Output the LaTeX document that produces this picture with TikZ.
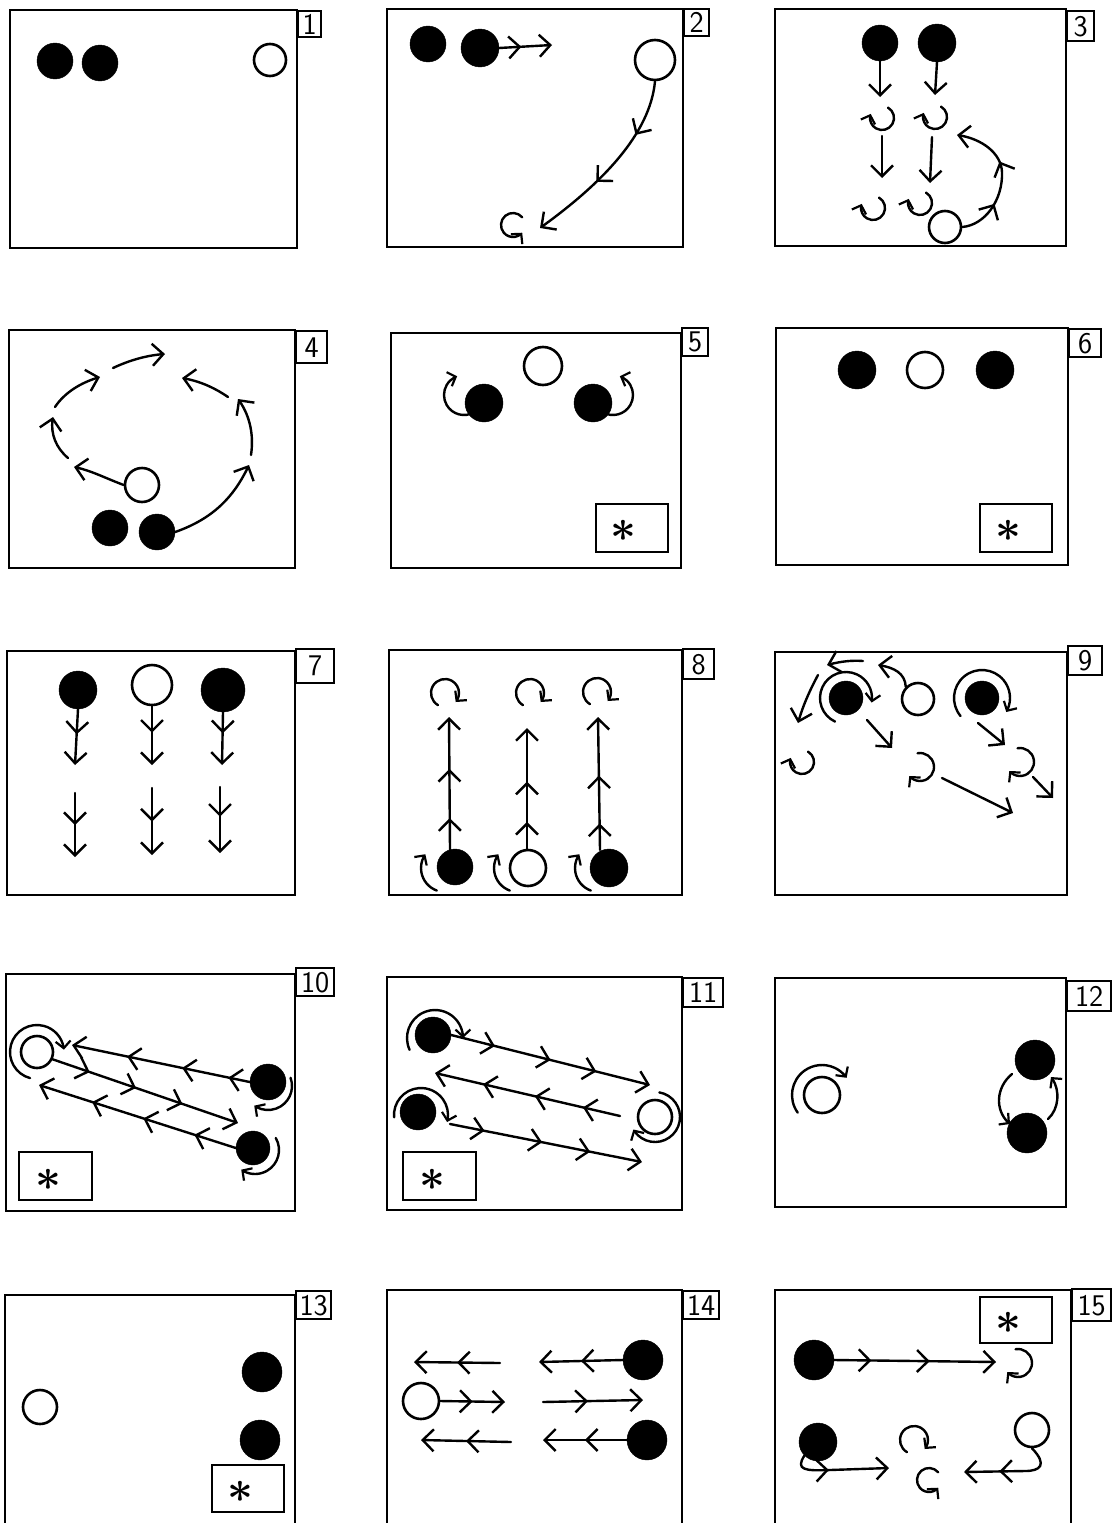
\documentclass[tikz,border=0pt]{standalone}
\usetikzlibrary{arrows.meta,bending,decorations.markings}
\begin{document}
\begin{tikzpicture}[x=1pt,y=-1pt,
  frm/.style={draw, line width=2.6pt},
  ln/.style={line width=2.4pt, line cap=round, line join=round},
  mv/.style={ln, -{Straight Barb[length=11pt,width=22pt,line width=2.4pt]}},
  sp/.style={ln, -{Straight Barb[length=7pt,width=15pt,line width=2.2pt,flex]}},
  mk/.style={postaction={decorate, decoration={markings, mark=at position #1 with {\arrow[line width=2.4pt]{Straight Barb[length=11pt,width=22pt]}}}}},
  blk/.style={circle, fill=black, draw=black, inner sep=0pt, minimum size=#1},
  blk/.default=36,
  wht/.style={circle, fill=white, draw=black, line width=2.6pt, inner sep=0pt, minimum size=#1},
  wht/.default=32,
  numbox/.style={draw, line width=2.4pt, inner sep=0pt, anchor=north west, font=\sffamily\fontsize{30}{30}\selectfont},
  starbox/.style={draw, line width=2.2pt, inner sep=0pt, anchor=north west, minimum width=72pt, minimum height=48pt},
  startxt/.style={inner sep=0pt},
  spinG/.pic={\draw[sp] (-40:12) arc[start angle=-40, end angle=-320, radius=12];},
  spinU/.pic={\draw[sp] (-60:12) arc[start angle=-60, end angle=200, radius=12];},
  spinR/.pic={\draw[sp] (120:14) arc[start angle=120, end angle=400, radius=14];},
  spinC/.pic={\draw[sp] (260:14) arc[start angle=260, end angle=500, radius=14];},
]
\fill[white] (0,0) rectangle (1116,1523);
\useasboundingbox (0,0) rectangle (1116,1523);

% ---------- frames ----------
\draw[frm] (10,10) rectangle (297,248);
\draw[frm] (387,9) rectangle (683,247);
\draw[frm] (775,9) rectangle (1066,246);
\draw[frm] (9,330) rectangle (295,568);
\draw[frm] (391,333) rectangle (681,568);
\draw[frm] (776,328) rectangle (1068,565);
\draw[frm] (7,651) rectangle (295,895);
\draw[frm] (389,650) rectangle (682,895);
\draw[frm] (775,652) rectangle (1067,895);
\draw[frm] (6,974) rectangle (295,1211);
\draw[frm] (387,977) rectangle (682,1210);
\draw[frm] (775,978) rectangle (1066,1207);
\draw[frm] (5,1530) -- (5,1295) -- (295,1295) -- (295,1530);
\draw[frm] (387,1530) -- (387,1290) -- (682,1290) -- (682,1530);
\draw[frm] (775,1530) -- (775,1290) -- (1071,1290) -- (1071,1530);

% ---------- number boxes ----------
\node[numbox, minimum width=23pt, minimum height=26pt] (n1) at (297,10) {1};
\node[numbox, minimum width=25pt, minimum height=27pt] (n2) at (683,8) {2};
\node[numbox, minimum width=27pt, minimum height=30pt] (n3) at (1066,10) {3};
\node[numbox, minimum width=31pt, minimum height=32pt] (n4) at (295,330) {4};
\node[numbox, minimum width=26pt, minimum height=28pt] (n5) at (681,327) {5};
\node[numbox, minimum width=32pt, minimum height=28pt] (n6) at (1068,328) {6};
\node[numbox, minimum width=38pt, minimum height=34pt] (n7) at (295,648) {7};
\node[numbox, minimum width=31pt, minimum height=30pt] (n8) at (682,648) {8};
\node[numbox, minimum width=34pt, minimum height=29pt] (n9) at (1067,645) {9};
\node[numbox, minimum width=38pt, minimum height=28pt] (n10) at (295,967) {10};
\node[numbox, minimum width=40pt, minimum height=29pt] (n11) at (682,977) {11};
\node[numbox, minimum width=44pt, minimum height=30pt] (n12) at (1066,980) {12};
\node[numbox, minimum width=35pt, minimum height=28pt] (n13) at (295,1290) {13};
\node[numbox, minimum width=36pt, minimum height=28pt] (n14) at (682,1290) {14};
\node[numbox, minimum width=39pt, minimum height=32pt] (n15) at (1071,1288) {15};

% ---------- star boxes ----------
\node[starbox] (s5) at (595,503) {};
\node[startxt] (s5t) at (623,531) {\scalebox{4.5}{\boldmath$\ast$}};
\node[starbox] (s6) at (979,503) {};
\node[startxt] (s6t) at (1008,531) {\scalebox{4.5}{\boldmath$\ast$}};
\node[starbox, minimum width=73pt] (s10) at (18,1151) {};
\node[startxt] (s10t) at (48,1180) {\scalebox{4.5}{\boldmath$\ast$}};
\node[starbox, minimum width=73pt] (s11) at (402,1151) {};
\node[startxt] (s11t) at (432,1180) {\scalebox{4.5}{\boldmath$\ast$}};
\node[starbox, minimum height=47pt] (s13) at (211,1464) {};
\node[startxt] (s13t) at (240,1492) {\scalebox{4.5}{\boldmath$\ast$}};
\node[starbox, minimum height=46pt] (s15) at (979,1296) {};
\node[startxt] (s15t) at (1008,1323) {\scalebox{4.5}{\boldmath$\ast$}};

% ---------- panel 1 ----------
\node[blk] (p1a) at (55,61) {};
\node[blk] (p1b) at (100,63) {};
\node[wht] (p1w) at (270,60) {};

% ---------- panel 2 ----------
\node[blk] (p2a) at (428,44) {};
\node[blk=38] (p2b) at (480,48) {};
\node[wht=40] (p2w) at (655,60) {};
\coordinate (p2e) at (552,45);
\draw[mv, mk=0.42] (p2b.east) -- (p2e);
\coordinate (p2g) at (540,228);
\draw[mv, mk=0.3, mk=0.62] (p2w.south) .. controls (650,135) and (600,185) .. (p2g);
\pic at (513,225) {spinG};

% ---------- panel 3 ----------
\node[blk] (p3a) at (880,43) {};
\node[blk=38] (p3b) at (937,43) {};
\draw[mv] (p3a.south) -- (880,97);
\draw[mv] (p3b.south) -- (935,95);
\pic at (882,118) {spinU};
\pic at (935,117) {spinU};
\draw[mv] (882,136) -- (882,178);
\draw[mv] (932,137) -- (930,183);
\pic at (873,208) {spinU};
\pic at (920,203) {spinU};
\node[wht] (p3w) at (945,227) {};
\draw[mv, mk=0.3, mk=0.62] (p3w.east) .. controls (985,225) and (1003,200) .. (1002,172) .. controls (1001,152) and (980,138) .. (957,135);

% ---------- panel 4 ----------
\node[wht=34] (p4w) at (142,485) {};
\node[blk] (p4a) at (110,528) {};
\node[blk] (p4b) at (157,532) {};
\draw[mv] (p4w.west) .. controls (105,478) and (90,470) .. (74,467);
\draw[mv] (68,458) .. controls (55,447) and (50,432) .. (53,417);
\draw[mv] (55,407) .. controls (65,392) and (82,382) .. (100,377);
\draw[mv] (113,368) .. controls (130,360) and (148,355) .. (165,354);
\draw[mv] (p4b.east) .. controls (215,518) and (235,495) .. (249,465);
\draw[mv] (251,455) .. controls (254,435) and (250,415) .. (238,399);
\draw[mv] (228,397) .. controls (215,388) and (200,381) .. (182,378);

% ---------- panel 5 ----------
\draw[sp] (464,395) ++(60:20) arc[start angle=60, end angle=250, radius=20];
\draw[sp] (613,395) ++(120:20) arc[start angle=120, end angle=-70, radius=20];
\node[wht=38] (p5w) at (543,366) {};
\node[blk=38] (p5a) at (484,403) {};
\node[blk=38] (p5b) at (593,403) {};

% ---------- panel 6 ----------
\node[blk=38] (p6a) at (857,370) {};
\node[wht=36] (p6w) at (925,370) {};
\node[blk=38] (p6b) at (995,370) {};

% ---------- panel 7 ----------
\node[blk=38] (p7a) at (78,690) {};
\node[wht=40] (p7w) at (152,685) {};
\node[blk=44] (p7b) at (223,690) {};
\draw[mv, mk=0.45] (p7a.south) -- (75,765);
\draw[mv, mk=0.5] (75,793) -- (75,857);
\draw[mv, mk=0.45] (p7w.south) -- (152,765);
\draw[mv, mk=0.5] (152,788) -- (152,855);
\draw[mv, mk=0.4] (p7b.south) -- (222,765);
\draw[mv, mk=0.45] (220,787) -- (220,853);

% ---------- panel 8 ----------
\draw[sp] (445,868) ++(110:24) arc[start angle=110, end angle=215, radius=24];
\draw[sp] (518,868) ++(110:24) arc[start angle=110, end angle=215, radius=24];
\draw[sp] (599,868) ++(110:24) arc[start angle=110, end angle=215, radius=24];
\node[blk] (p8a) at (455,867) {};
\node[wht=36] (p8w) at (528,868) {};
\node[blk=38] (p8b) at (609,868) {};
\coordinate (p8sa) at (450,850);
\coordinate (p8sb) at (527,850);
\coordinate (p8sc) at (600,850);
\draw[mv, mk=0.24, mk=0.61] (p8sa) -- (449,717);
\draw[mv, mk=0.23, mk=0.56] (p8sb) -- (527,728);
\draw[mv, mk=0.2, mk=0.56] (p8sc) -- (598,717);
\pic at (445,693) {spinR};
\pic at (530,693) {spinR};
\pic at (597,692) {spinR};

% ---------- panel 9 ----------
\draw[sp] (846,698) ++(115:26) arc[start angle=115, end angle=370, radius=26];
\draw[sp] (982,698) ++(140:28) arc[start angle=140, end angle=390, radius=28];
\node[blk=34] (p9a) at (846,698) {};
\node[wht=32] (p9w) at (918,699) {};
\node[blk=34] (p9b) at (982,698) {};
\draw[mv] (p9w.north west) .. controls (905,672) and (892,667) .. (878,665);
\draw[mv] (863,661) .. controls (850,660) and (838,662) .. (827,665);
\draw[mv] (818,675) .. controls (810,690) and (803,705) .. (798,723);
\draw[mv] (867,720) -- (892,748);
\draw[mv] (942,778) -- (1013,813);
\draw[mv] (978,723) -- (1005,745);
\draw[mv] (1033,777) -- (1053,798);
\pic at (802,762) {spinU};
\pic at (920,767) {spinC};
\pic at (1020,762) {spinC};

% ---------- panel 10 ----------
\draw[sp] (37,1052) ++(105:27) arc[start angle=105, end angle=355, radius=27];
\draw[sp] (268,1086) ++(-20:24) arc[start angle=-20, end angle=125, radius=24];
\draw[sp] (255,1150) ++(-30:24) arc[start angle=-30, end angle=125, radius=24];
\node[wht=32] (p10w) at (37,1052) {};
\node[blk] (p10a) at (268,1082) {};
\node[blk=34] (p10b) at (253,1148) {};
\draw[mv, mk=0.12, mk=0.38, mk=0.69] (p10a.west) -- (72,1045);
\draw[mv, mk=0.2, mk=0.45, mk=0.7] (p10w.-25) -- (238,1123);
\draw[mv, mk=0.21, mk=0.47, mk=0.73] (p10b.west) -- (39,1085);

% ---------- panel 11 ----------
\draw[sp] (435,1038) ++(155:28) arc[start angle=155, end angle=360, radius=28];
\draw[sp] (421,1115) ++(175:27) arc[start angle=175, end angle=375, radius=27];
\draw[sp] (655,1117) ++(280:25) arc[start angle=280, end angle=510, radius=25];
\node[blk] (p11a) at (433,1035) {};
\node[blk] (p11b) at (418,1112) {};
\node[wht=34] (p11w) at (655,1117) {};
\coordinate (p11s) at (620,1116);
\coordinate (p11t) at (450,1124);
\draw[mv, mk=0.22, mk=0.5, mk=0.73] (p11a.east) -- (650,1085);
\draw[mv, mk=0.2, mk=0.46, mk=0.74] (p11s) -- (435,1073);
\draw[mv, mk=0.18, mk=0.48, mk=0.73] (p11t) -- (642,1162);

% ---------- panel 12 ----------
\draw[sp] (822,1095) ++(144:30) arc[start angle=144, end angle=325, radius=30];
\node[wht=36] (p12w) at (822,1095) {};
\node[blk=40] (p12a) at (1035,1060) {};
\node[blk=40] (p12b) at (1027,1133) {};
\draw[sp] (1012,1074) .. controls (995,1088) and (995,1112) .. (1010,1124);
\draw[sp] (1048,1119) .. controls (1060,1108) and (1060,1088) .. (1051,1077);

% ---------- panel 13 ----------
\node[wht=34] (p13w) at (40,1407) {};
\node[blk=40] (p13a) at (262,1372) {};
\node[blk=40] (p13b) at (260,1440) {};

% ---------- panel 14 ----------
\node[blk=40] (p14a) at (643,1360) {};
\node[wht=36] (p14w) at (421,1401) {};
\node[blk=40] (p14b) at (647,1440) {};
\draw[mv, mk=0.5] (p14a.west) -- (539,1362);
\draw[mv, mk=0.5] (500,1363) -- (414,1362);
\draw[mv, mk=0.5] (p14w.east) -- (505,1402);
\draw[mv, mk=0.45] (543,1402) -- (643,1400);
\draw[mv, mk=0.5] (p14b.west) -- (543,1440);
\draw[mv, mk=0.5] (511,1442) -- (421,1440);

% ---------- panel 15 ----------
\node[blk=40] (p15a) at (814,1360) {};
\node[blk=38] (p15b) at (818,1442) {};
\node[wht=34] (p15w) at (1032,1430) {};
\draw[mv, mk=0.23, mk=0.59] (p15a.east) -- (996,1362);
\draw[mv, mk=0.4] (p15b.south west) .. controls (795,1470) and (805,1471) .. (830,1470) -- (889,1468);
\draw[mv, mk=0.64] (p15w.south) .. controls (1048,1465) and (1040,1471) .. (1025,1471) -- (964,1472);
\pic at (1018,1363) {spinC};
\pic at (914,1440) {spinR};
\pic at (929,1480) {spinG};
\end{tikzpicture}
\end{document}
